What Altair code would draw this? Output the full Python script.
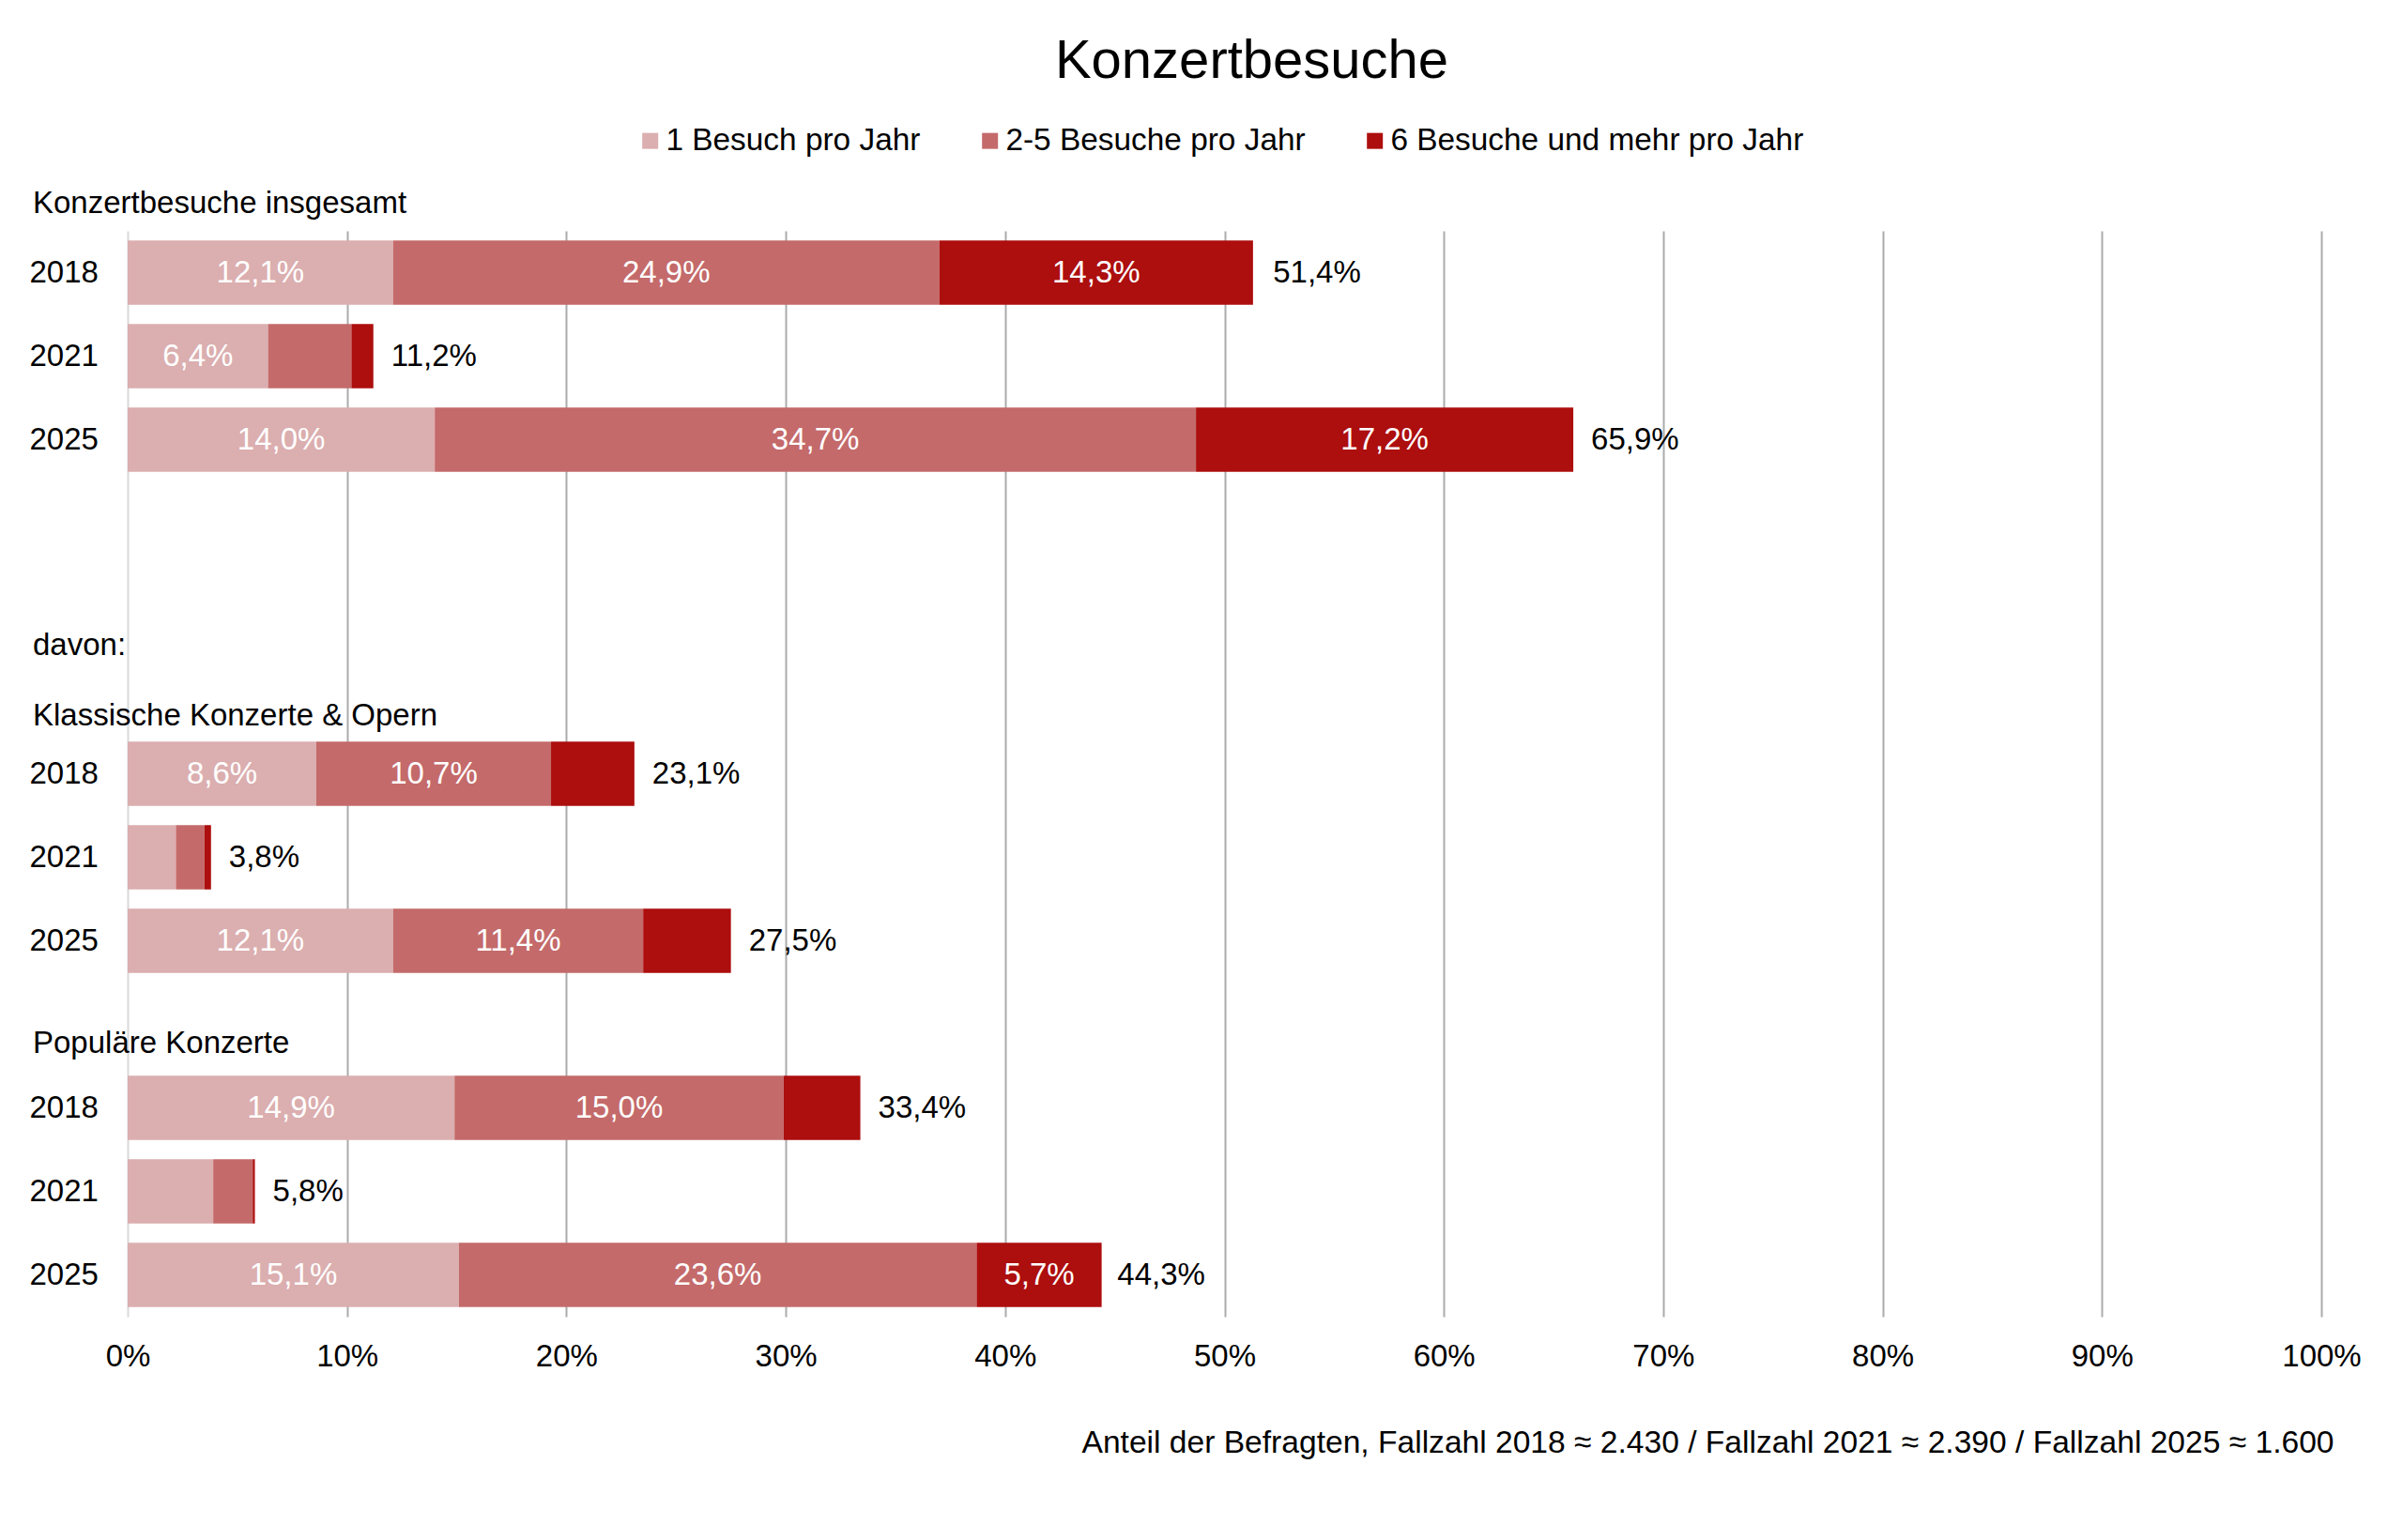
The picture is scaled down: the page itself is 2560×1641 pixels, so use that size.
import altair as alt
import pandas as pd

FONT = "Liberation Sans"

group_keys = ["A", "K", "P"]
years = ["2018", "2021", "2025"]
categories = ["1 Besuch pro Jahr", "2-5 Besuche pro Jahr", "6 Besuche und mehr pro Jahr"]
colors = ["#DBAEAF", "#C46A6A", "#AD0E0E"]

# rows: Konzertbesuche insgesamt 2018/2021/2025, Klassische 2018/2021/2025, Populäre 2018/2021/2025
v_one = [12.1, 6.4, 14.0, 8.6, 2.2, 12.1, 14.9, 3.9, 15.1]
v_two = [24.9, 3.8, 34.7, 10.7, 1.3, 11.4, 15.0, 1.8, 23.6]
v_six = [14.3, 1.0, 17.2, 3.8, 0.3, 4.0, 3.5, 0.1, 5.7]
totals = [51.4, 11.2, 65.9, 23.1, 3.8, 27.5, 33.4, 5.8, 44.3]

headers = ["Konzertbesuche insgesamt", "davon:", "Klassische Konzerte & Opern", "Populäre Konzerte"]
footer = "Anteil der Befragten, Fallzahl 2018 \u2248 2.430 / Fallzahl 2021 \u2248 2.390 / Fallzahl 2025 \u2248 1.600"
chart_title = "Konzertbesuche"

row_keys = [f"{g}-{y}" for g in group_keys for y in years]
row_order = row_keys[0:3] + ["_1", "_2", "_3"] + row_keys[3:6] + ["_4"] + row_keys[6:9]

series = [v_one, v_two, v_six]
long_rows = []
for i, key in enumerate(row_keys):
    for k, cat in enumerate(categories):
        long_rows.append({"row": key, "cat": cat, "k": k, "v": series[k][i]})
df = pd.DataFrame(long_rows)
tot = pd.DataFrame({"row": row_keys, "total": totals})

xscale = alt.Scale(domain=[0, 100], nice=False, zero=True)
xaxis = alt.Axis(
    values=list(range(0, 101, 10)),
    labelExpr="datum.value + '%'",
    labelFontSize=33,
    labelFont=FONT,
    labelColor="black",
    labelPadding=26,
    labelFlush=False,
    ticks=False,
    tickSize=0,
    domain=False,
    grid=True,
    gridColor={"condition": {"test": "datum.value === 0", "value": "#D9D9D9"}, "value": "#ABABAB"},
    gridWidth=2,
    title=footer,
    titleFont=FONT,
    titleFontSize=33.6,
    titleFontWeight="normal",
    titleColor="black",
    titleAnchor="end",
    titleAlign="right",
    titleX=2350,
    titleY=134,
    titleBaseline="middle",
)
yscale = alt.Scale(domain=row_order, paddingInner=0.23, paddingOuter=0.115)
yaxis = alt.Axis(
    title=None,
    labelExpr="indexof(datum.value, '_') === 0 ? '' : slice(datum.value, -4)",
    labelAlign="left",
    labelPadding=105,
    labelFontSize=33,
    labelFont=FONT,
    labelColor="black",
    ticks=False,
    tickSize=0,
    domain=False,
    grid=False,
)
yenc = alt.Y("row:N", scale=yscale, axis=yaxis)

bars = alt.Chart(df).mark_bar().encode(
    x=alt.X("v:Q", stack="zero", scale=xscale, axis=xaxis),
    y=yenc,
    color=alt.Color(
        "cat:N",
        scale=alt.Scale(domain=categories, range=colors),
        legend=alt.Legend(
            title=None,
            orient="none",
            direction="horizontal",
            legendX=540,
            legendY=-113,
            labelFontSize=33.4,
            labelFont=FONT,
            labelColor="black",
            symbolType="square",
            symbolSize=289,
            symbolStrokeWidth=0,
            labelOffset=0,
            columnPadding=57,
            labelLimit=1000,
        ),
    ),
    order=alt.Order("k:Q"),
)

seg_labels = (
    alt.Chart(df)
    .transform_stack(stack="v", groupby=["row"], as_=["v0", "v1"], sort=[alt.SortField(field="k", order="ascending")])
    .transform_filter("datum.v >= 5")
    .transform_calculate(mid="(datum.v0 + datum.v1) / 2", lab="replace(format(datum.v, '.1f'), '.', ',') + '%'")
    .mark_text(color="white", fontSize=33, font=FONT, baseline="middle")
    .encode(x=alt.X("mid:Q", scale=xscale, axis=xaxis), y=yenc, text="lab:N")
)

tot_labels = (
    alt.Chart(tot)
    .transform_calculate(lab="replace(format(datum.total, '.1f'), '.', ',') + '%'")
    .mark_text(color="black", fontSize=33, font=FONT, align="left", baseline="middle", dx=19)
    .encode(x=alt.X("total:Q", scale=xscale, axis=xaxis), y=yenc, text="lab:N")
)

header_anchor = ["A-2018", "K-2018", "K-2018", "P-2018"]
header_dy = [-74, -137, -62, -69]
header_layers = []
for label, anchor, dy in zip(headers, header_anchor, header_dy):
    hdf = pd.DataFrame({"row": [anchor], "label": [label]})
    header_layers.append(
        alt.Chart(hdf)
        .mark_text(color="black", fontSize=33, font=FONT, align="left", baseline="middle", dy=dy)
        .encode(x=alt.value(-101), y=yenc, text="label:N")
    )

chart = (
    alt.layer(bars, seg_labels, tot_labels, *header_layers)
    .properties(
        width=2337,
        height=1157,
        autosize=alt.AutoSizeParams(type="none"),
        padding={"left": 128, "top": 238, "right": 79, "bottom": 230},
        title=alt.TitleParams(
            chart_title,
            fontSize=58,
            font=FONT,
            fontWeight="normal",
            color="black",
            anchor="middle",
            frame="group",
            dx=29,
            offset=38,
        ),
    )
    .configure(font=FONT, background="white")
    .configure_view(stroke=None)
)

chart.save("out.html", embed_options={"renderer": "svg", "actions": False})
